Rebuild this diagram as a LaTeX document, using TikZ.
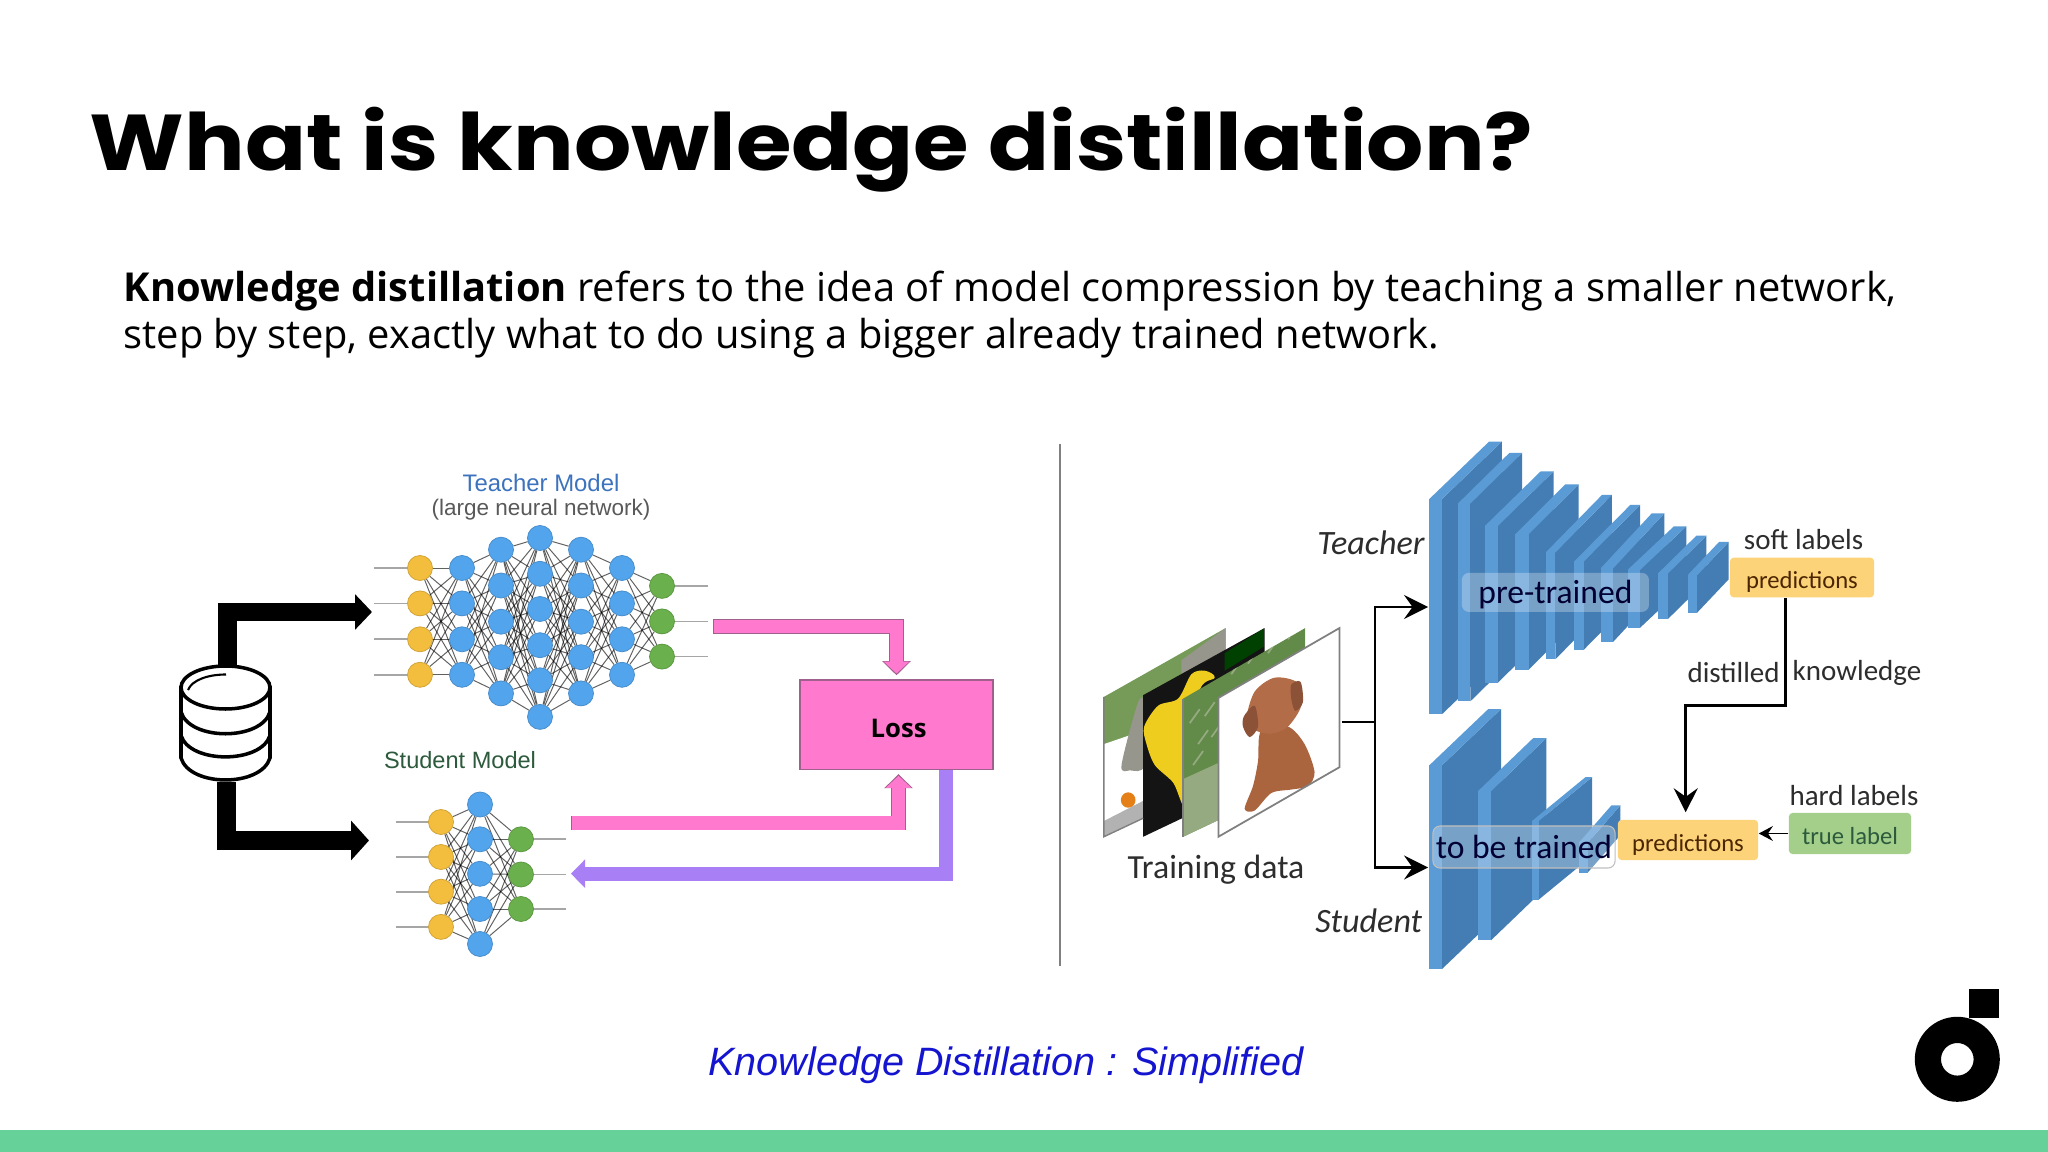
\documentclass[tikz,border=0pt]{standalone}
\usepackage{fontspec}
\setmainfont{Open Sans}
\newfontfamily\titlefont{Poppins}[FakeStretch=1.138]
\newfontfamily\capfont{Liberation Sans}
\newfontfamily\netfont{Liberation Sans}
\newfontfamily\figfont{Carlito}
\usetikzlibrary{arrows.meta,positioning,backgrounds}
\definecolor{barmint}{RGB}{102,209,152}
\definecolor{capblue}{RGB}{21,21,208}
\definecolor{lossfill}{RGB}{255,122,207}
\definecolor{lossedge}{RGB}{160,96,142}
\definecolor{backflow}{RGB}{169,127,245}
\definecolor{nodeyellow}{RGB}{243,190,62}
\definecolor{nodeblue}{RGB}{82,164,236}
\definecolor{nodegreen}{RGB}{106,176,76}
\definecolor{namedblue}{RGB}{60,115,190}
\definecolor{namedgreen}{RGB}{45,90,60}
\definecolor{blockfront}{RGB}{91,155,213}
\definecolor{blockside}{RGB}{68,125,180}
\definecolor{softyellow}{RGB}{253,211,122}
\definecolor{softgreen}{RGB}{163,207,139}
\definecolor{figtext}{RGB}{45,45,45}
\definecolor{photogreen}{RGB}{118,155,88}
\definecolor{photograss}{RGB}{98,138,72}
\definecolor{photopale}{RGB}{150,170,130}
\definecolor{photogray}{RGB}{150,150,140}
\definecolor{flower}{RGB}{238,205,30}
\definecolor{dogbody}{RGB}{170,100,62}
\definecolor{doghead}{RGB}{178,108,72}
\definecolor{dogear}{RGB}{140,82,55}
\tikzstyle{bigarrow} = [draw=black,line width=5.2pt,-{Triangle[length=4.8pt,width=9.8pt]}]
\tikzstyle{lowarrow} = [draw=black,line width=5.6pt,-{Triangle[length=5.1pt,width=11pt]}]
\tikzstyle{pinkedge} = [draw=lossedge,line width=4.25pt,shorten >=1.2pt,-{Triangle[length=4pt,width=7.9pt]}]
\tikzstyle{pinkfill} = [draw=lossfill,line width=3.7pt,shorten <=.3pt,shorten >=1.7pt,-{Triangle[length=3.4pt,width=7.1pt]}]
\tikzstyle{backarrow} = [draw=backflow,line width=3.97pt,-{Triangle[length=4pt,width=7.9pt]}]
\tikzstyle{datarrow} = [draw=black,line width=.72pt,-{Stealth[length=6.8pt,width=6.8pt,inset=2.4pt]}]
\tikzstyle{netedge} = [draw=black,line width=.28pt,opacity=.62]
\tikzstyle{netio} = [draw=black!35,line width=.5pt]
\tikzstyle{netnode} = [circle,inner sep=0pt,minimum size=.25cm,draw=#1!85!black,line width=.2pt,fill=#1]
\tikzstyle{predbox} = [rounded corners=1pt,inner sep=0pt,text height=7.5pt,text depth=1pt,font=\figfont\fontsize{7}{8}\selectfont]
\tikzstyle{glassbox} = [rounded corners=2pt,inner sep=0pt,fill=white,fill opacity=.28,text opacity=1,text=black!20!blue!25!black,font=\figfont\fontsize{9.55}{10}\selectfont]
\tikzstyle{figlabel} = [text=figtext,font=\figfont\fontsize{8.25}{9}\selectfont]
\tikzstyle{figtag} = [text=figtext,font=\figfont\itshape\fontsize{9.7}{11}\selectfont]
\newcommand{\pinkflow}[1]{\draw[pinkedge] #1; \draw[pinkfill] #1;}
\begin{document}
\begin{tikzpicture}[x=.01cm,y=-.01cm]
\useasboundingbox (0,0) rectangle (2048,1152);
\begin{scope}[on background layer]
\fill[white] (0,0) rectangle (2048,1152);
\end{scope}
\fill[barmint] (0,1130) rectangle (2048,1152);

% Heading and text
\node[anchor=base west,inner sep=0pt,font=\titlefont\bfseries\fontsize{22.5}{26}\selectfont] (heading) at (89,171) {What is knowledge distillation?};
\node[anchor=base west,inner sep=0pt,align=left,font=\fontsize{11.33}{13.6}\selectfont] (intro) at (123,349) {\textbf{Knowledge distillation} refers to the idea of model compression by teaching a smaller network,\\step by step, exactly what to do using a bigger already trained network.};
\node[font=\capfont\itshape\fontsize{11.25}{13}\selectfont,text=capblue] (caption) at (1006,1065) {Knowledge Distillation : Simplified};

% Logo
\fill[black] (1969.3,989.3) rectangle (1998.7,1018.3);
\fill[black,even odd rule] (1957.3,1059.3) circle (42.5) (1957.3,1059.3) circle (16.3);

% Divider
\node[inner sep=0pt] (dividertop) at (1060,442) {};
\node[inner sep=0pt] (dividerend) at (1060,968) {};
\draw[black!50,line width=.55pt] (dividertop) -- (dividerend);

% Teacher network
\foreach \xpos/\ylist/\tone [count=\c] in {420/{568,603.4,639.3,674.8}/nodeyellow,462/{568,603.4,639.3,674.8}/nodeblue,501/{549.7,585.5,621.7,657.2,693.4}/nodeblue,540/{538,573.8,609,645.2,680.3,716.9}/nodeblue,581/{549.7,585.5,621.7,657.2,693.4}/nodeblue,622/{568,603.4,639.3,674.8}/nodeblue,662/{585.9,621.4,656.6}/nodegreen}
  \foreach \ypos [count=\r] in \ylist
    \node[netnode=\tone] (t\c-\r) at (\xpos,\ypos) {};
\begin{scope}[on background layer]
\foreach \a/\b/\p/\q in {1/2/4/4,2/3/4/5,3/4/5/6,4/5/6/5,5/6/5/4,6/7/4/3}
  \foreach \i in {1,...,\p}
    \foreach \j in {1,...,\q}
      \draw[netedge] (t\a-\i) -- (t\b-\j);
\foreach \i in {1,...,4} \draw[netio] (t1-\i.center) -- ([xshift=-.46cm]t1-\i.center);
\foreach \i in {1,...,3} \draw[netio] (t7-\i.center) -- ([xshift=.46cm]t7-\i.center);
\end{scope}

% Student network
\foreach \xpos/\ylist/\tone [count=\c] in {441/{822,857,891.7,926.9}/nodeyellow,480/{804.5,839.3,873.8,909,944}/nodeblue,521/{839.3,874.5,909}/nodegreen}
  \foreach \ypos [count=\r] in \ylist
    \node[netnode=\tone] (s\c-\r) at (\xpos,\ypos) {};
\begin{scope}[on background layer]
\foreach \a/\b/\p/\q in {1/2/4/5,2/3/5/3}
  \foreach \i in {1,...,\p}
    \foreach \j in {1,...,\q}
      \draw[netedge] (s\a-\i) -- (s\b-\j);
\foreach \i in {1,...,4} \draw[netio] (s1-\i.center) -- ([xshift=-.45cm]s1-\i.center);
\foreach \i in {1,...,3} \draw[netio] (s3-\i.center) -- ([xshift=.45cm]s3-\i.center);
\end{scope}

% Network labels
\node[text=namedblue,font=\netfont\fontsize{6.8}{8}\selectfont] (teachername) at (541,483) {Teacher Model};
\node[text=black!65,font=\netfont\fontsize{6.4}{8}\selectfont] (teachernote) at (541,510) {(large neural network)};
\node[text=namedgreen,font=\netfont\fontsize{6.7}{8}\selectfont] (studentname) at (460,760) {Student Model};

% Data store
\coordinate (teacherfeed) at (372,612);
\coordinate (studentfeed) at (369,840.5);
\node[inner sep=0pt,minimum width=.9cm,minimum height=1.155cm] (dbase) at (225.5,723.7) {};
\begin{scope}[on background layer]
\draw[bigarrow] ([xshift=.02cm]dbase.north) |- (teacherfeed);
\draw[lowarrow] ([xshift=.01cm]dbase.south) |- (studentfeed);
\end{scope}
\draw[black,line width=1pt,fill=white] (181,687.5) -- (181,758) .. controls (190,787.3) and (261,787.3) .. (270,758) -- (270,687.5) -- cycle;
\draw[black,line width=1pt,fill=white] (225.5,687.5) ellipse [x radius=44.5,y radius=21.5];
\draw[black,line width=1pt] (181,712) .. controls (190,741) and (261,741) .. (270,712);
\draw[black,line width=1pt] (181,735.5) .. controls (190,764) and (261,764) .. (270,735.5);
\draw[black,line width=.6pt] (188,690) .. controls (192,680) and (208,674.5) .. (226,674.5);

% Loss
\node[draw=lossedge,fill=lossfill,line width=.4pt,minimum width=1.93cm,minimum height=.89cm,inner sep=0pt,text height=7pt,text depth=0pt,font=\bfseries\fontsize{7.3}{9}\selectfont] (loss) at (896.5,724.7) {\hspace*{1.2pt}Loss};
\coordinate (teacherout) at (713,626.5);
\coordinate (studentout) at (571,823);
\coordinate (feedback) at (571,873.7);
\pinkflow{(teacherout) -| (loss.north)}
\pinkflow{(studentout) -| ([xshift=.02cm]loss.south)}
\draw[backarrow] ([xshift=.49cm]loss.south) |- (feedback);

% Teacher blocks
\foreach \xa/\xb/\xc/\ytop/\ybot/\yback in {1429.3/1442/1501.8/499/714.2/441.6,1457.9/1470.4/1522/503.5/701.3/452.8,1484.6/1497.5/1553.6/526.3/683/471.3,1515.4/1528.6/1578.6/534.3/669.8/484.3,1545.7/1555.4/1611.8/552.5/659.3/494.8,1574.3/1584/1640/561.3/649.5/504.9,1600.7/1613.2/1664.3/568.3/641.8/513.3,1627.5/1640/1686.4/570/627.8/526.3,1657.9/1667.9/1706.4/573.5/619/535.7,1687.5/1697.1/1728.6/575.3/612.7/542,
1429.3/1442/1501/765.3/969/709,1477.9/1491/1546.4/791.2/940.3/738,1532/1538.6/1592/821/899.7/777.2,1578.6/1587.5/1620.4/843/872.8/805.3} {
  \fill[blockside] (\xb,\ytop) -- (\xc,\yback) -- (\xc,\yback+\ybot-\ytop) -- (\xb,\ybot) -- cycle;
  \fill[blockfront] (\xa,\ytop) -- (\xb,\ytop) -- (\xc,\yback) -- (\xc-\xb+\xa,\yback) -- cycle;
  \fill[blockfront] (\xa,\ytop) rectangle (\xb,\ybot);
}
\node[glassbox,minimum width=1.87cm,minimum height=.39cm,text height=8pt,text depth=1.5pt] (pretrained) at (1555.4,592.4) {pre-trained};
\node[glassbox,draw=white!75!black,line width=.3pt,minimum width=1.82cm,minimum height=.42cm] (tobetrained) at (1524,847) {to be trained};

% Outputs
\node[predbox,fill=softyellow,minimum width=1.44cm,minimum height=.395cm,text=black!70!orange] (softpred) at (1802,577.5) {predictions};
\node[predbox,fill=softyellow,minimum width=1.4cm,minimum height=.4cm,text=black!70!orange] (hardpred) at (1688,840) {predictions};
\node[predbox,fill=softgreen,minimum width=1.22cm,minimum height=.41cm,text=namedgreen] (truelabel) at (1850,833.5) {true label};
\node[figlabel] (softname) at (1803.6,539.6) {soft labels};
\node[figlabel] (hardname) at (1854,796) {hard labels};
\node[figlabel] (distilled) at (1733.6,673) {distilled};
\node[figlabel] (knowledge) at (1857,673) {knowledge};
\coordinate (knowbend) at (1685.7,705.5);
\draw[draw=black,line width=.85pt,-{Stealth[length=6.8pt,width=6.8pt,inset=2.4pt]},shorten >=2pt] ([xshift=-.17cm]softpred.south) |- (knowbend) -- (knowbend |- hardpred.north);
\draw[draw=black,line width=.55pt,-{Stealth[length=4pt,width=4.2pt,inset=1.4pt]}] (truelabel.west) -- (truelabel.west -| hardpred.east);

% Training images
\begin{scope}[x=.00333cm,y=-.0035cm,shift={(3180,1228.5)}]
\begin{scope}
\clip (137,765) -- (503,568) -- (503,1000) -- (137,1165) -- cycle;
\fill[photogreen] (100,560) rectangle (520,1170);
\fill[white] (137,900) -- (260,860) -- (260,1170) -- (137,1170) -- cycle;
\fill[black!30] (137,1120) -- (260,1060) -- (260,1170) -- (137,1170) -- cycle;
\fill[photogray] plot[smooth cycle] coordinates {(190,960) (240,780) (260,790) (260,960) (215,975)};
\fill[orange!60!brown] (210,1060) circle (22);
\fill[photogray] (370,660) -- (503,568) -- (503,640) -- (370,720) -- cycle;
\end{scope}
\begin{scope}
\clip (255,760) -- (620,568) -- (620,1000) -- (255,1165) -- cycle;
\fill[black!92] (250,560) rectangle (630,1170);
\fill[green!25!black] (500,640) -- (620,568) -- (620,620) -- (500,690) -- cycle;
\fill[flower] plot[smooth cycle] coordinates {(258,850) (300,790) (360,770) (400,700) (440,690) (470,710) (420,760) (390,1080) (345,1010) (290,960) (265,900)};
\end{scope}
\begin{scope}
\clip (375,770) -- (742,568) -- (742,1000) -- (375,1165) -- cycle;
\fill[photograss] (370,560) rectangle (750,1170);
\fill[photopale] (375,1000) -- (490,950) -- (490,1170) -- (375,1170) -- cycle;
\foreach \xa/\ya in {395/840,420/900,440/820,405/960,460/880,520/700,570/670,630/640,690/600}
  \draw[photopale,line width=.5pt] (\xa,\ya) -- ++(30,-40);
\end{scope}
\fill[white] (481,768) -- (845,568) -- (845,966) -- (481,1165) -- cycle;
\fill[dogbody] plot[smooth cycle] coordinates {(610,860) (690,850) (740,900) (770,980) (750,1020) (700,1030) (640,1040) (590,1090) (560,1085) (585,1020) (600,950)};
\fill[doghead] plot[smooth cycle] coordinates {(565,830) (590,750) (650,710) (720,725) (730,790) (690,850) (640,870) (590,860)};
\fill[dogear] plot[smooth cycle] coordinates {(558,820) (590,790) (600,850) (575,880) (555,850)};
\fill[dogear] plot[smooth cycle] coordinates {(700,730) (728,722) (735,780) (712,805) (700,770)};
\draw[black!50,line width=.4pt] (137,765) -- (137,1165) -- (255,1112);
\draw[black!50,line width=.4pt] (375,770) -- (375,1165);
\draw[black!50,line width=.5pt] (481,768) -- (845,568) -- (845,966) -- (481,1165) -- cycle;
\end{scope}
\node[figlabel,font=\figfont\fontsize{9.6}{11}\selectfont] (trainname) at (1216,870) {Training data};
\node[figtag] (teachertag) at (1371,543) {Teacher};
\node[figtag] (studenttag) at (1368.7,920.5) {Student};

% Data split
\coordinate (imageedge) at (1341.7,722);
\coordinate (datasplit) at (1375,722);
\coordinate (teacherinput) at (1428,607);
\coordinate (studentinput) at (1428,867.5);
\draw[black,line width=.8pt] (imageedge) -- (datasplit);
\draw[datarrow] (datasplit) |- (teacherinput);
\draw[datarrow] (datasplit) |- (studentinput);
\end{tikzpicture}
\end{document}
